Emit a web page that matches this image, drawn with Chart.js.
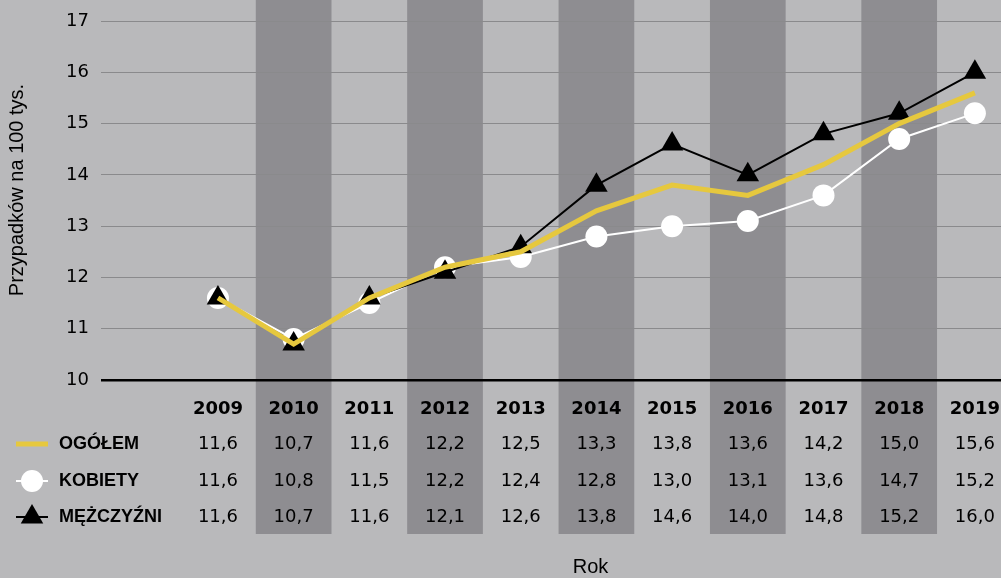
<!DOCTYPE html>
<html>
<head>
<meta charset="utf-8">
<script src="https://cdn.jsdelivr.net/npm/chart.js@4.4.1/dist/chart.umd.min.js"></script>
<style>
  html, body { margin: 0; padding: 0; background: #b9b9bb; }
  #wrap { width: 1001px; height: 578px; }
</style>
</head>
<body>
<div id="wrap"><canvas id="chart" width="1001" height="578"></canvas></div>
<script>
// dane
const years = ['2009', '2010', '2011', '2012', '2013', '2014', '2015', '2016', '2017', '2018', '2019'];
const ogolem = [11.6, 10.7, 11.6, 12.2, 12.5, 13.3, 13.8, 13.6, 14.2, 15.0, 15.6];
const kobiety = [11.6, 10.8, 11.5, 12.2, 12.4, 12.8, 13.0, 13.1, 13.6, 14.7, 15.2];
const mezczyzni = [11.6, 10.7, 11.6, 12.1, 12.6, 13.8, 14.6, 14.0, 14.8, 15.2, 16.0];
const seriesNames = ['OGÓŁEM', 'KOBIETY', 'MĘŻCZYŹNI'];
const yTicks = [10, 11, 12, 13, 14, 15, 16, 17];

const YELLOW = '#e6c83e';
const BG = '#b9b9bb';
const DARK = '#8e8d91';

const toPoints = arr => arr.map((v, i) => ({ x: i, y: v }));
const fmt = v => v.toFixed(1).replace('.', ',');

// tlo, ciemne kolumny, tabela pod wykresem
const tablePlugin = {
  id: 'tablePlugin',
  beforeDraw(chart) {
    const ctx = chart.ctx;
    const xs = chart.scales.x;
    const bottom = chart.chartArea.bottom;
    ctx.save();
    ctx.fillStyle = BG;
    ctx.fillRect(0, 0, chart.width, chart.height);
    ctx.fillStyle = DARK;
    years.forEach((y, i) => {
      if (i % 2 === 1) {
        const l = xs.getPixelForValue(i - 0.5);
        const r = xs.getPixelForValue(i + 0.5);
        ctx.fillRect(l, 0, r - l, bottom + 154);
      }
    });
    ctx.restore();
  },
  afterDraw(chart) {
    const ctx = chart.ctx;
    const xs = chart.scales.x;
    const bottom = chart.chartArea.bottom;
    const rows = [ogolem, kobiety, mezczyzni];
    const rowY = [bottom + 64, bottom + 101, bottom + 137];
    ctx.save();
    ctx.fillStyle = '#000';
    ctx.textAlign = 'center';
    ctx.textBaseline = 'middle';
    ctx.font = 'bold 18px "DejaVu Sans"';
    years.forEach((y, i) => ctx.fillText(y, xs.getPixelForValue(i), bottom + 29));
    ctx.font = '18px "DejaVu Sans"';
    rows.forEach((row, r) => {
      row.forEach((v, i) => ctx.fillText(fmt(v), xs.getPixelForValue(i), rowY[r]));
    });

    // legenda
    ctx.textAlign = 'left';
    ctx.font = 'bold 18px "Liberation Sans"';
    seriesNames.forEach((n, r) => ctx.fillText(n, 59, rowY[r]));
    // ogolem
    ctx.strokeStyle = YELLOW;
    ctx.lineWidth = 5;
    ctx.beginPath(); ctx.moveTo(16, rowY[0]); ctx.lineTo(48, rowY[0]); ctx.stroke();
    // kobiety
    ctx.strokeStyle = '#fff';
    ctx.lineWidth = 2;
    ctx.beginPath(); ctx.moveTo(16, rowY[1]); ctx.lineTo(48, rowY[1]); ctx.stroke();
    ctx.fillStyle = '#fff';
    ctx.beginPath(); ctx.arc(32, rowY[1], 11, 0, Math.PI * 2); ctx.fill();
    // mezczyzni
    ctx.strokeStyle = '#000';
    ctx.beginPath(); ctx.moveTo(16, rowY[2]); ctx.lineTo(48, rowY[2]); ctx.stroke();
    ctx.fillStyle = '#000';
    const rr = 13;
    ctx.beginPath();
    for (let k = 0; k < 3; k++) {
      const a = k * 2 * Math.PI / 3;
      const px = 32 + Math.sin(a) * rr, py = rowY[2] - Math.cos(a) * rr;
      k === 0 ? ctx.moveTo(px, py) : ctx.lineTo(px, py);
    }
    ctx.closePath(); ctx.fill();

    // tytul osi x
    ctx.textAlign = 'center';
    ctx.font = '20px "Liberation Sans"';
    const cx = (xs.getPixelForValue(-0.5) + chart.width) / 2;
    ctx.fillText('Rok', cx, chart.height - 11);
    ctx.restore();
  }
};

new Chart(document.getElementById('chart'), {
  type: 'line',
  data: {
    datasets: [
      {
        label: seriesNames[0],
        data: toPoints(ogolem),
        borderColor: YELLOW,
        borderWidth: 5,
        pointRadius: 0,
        order: 0
      },
      {
        label: seriesNames[1],
        data: toPoints(kobiety),
        borderColor: '#fff',
        borderWidth: 2,
        pointRadius: 11,
        pointBackgroundColor: '#fff',
        pointBorderColor: '#fff',
        pointBorderWidth: 0,
        order: 2
      },
      {
        label: seriesNames[2],
        data: toPoints(mezczyzni),
        borderColor: '#000',
        borderWidth: 2,
        pointStyle: 'triangle',
        pointRadius: 13,
        pointBackgroundColor: '#000',
        pointBorderColor: '#000',
        pointBorderWidth: 0,
        order: 1
      }
    ]
  },
  options: {
    responsive: false,
    animation: false,
    events: [],
    layout: { autoPadding: false, padding: { left: 0, right: 0, top: 0, bottom: 198 } },
    plugins: { legend: { display: false }, tooltip: { enabled: false } },
    elements: { line: { tension: 0 } },
    scales: {
      x: {
        type: 'linear',
        display: false,
        min: -1.545,
        max: 10.345
      },
      y: {
        min: 10,
        max: 17.41,
        afterBuildTicks: s => { s.ticks = yTicks.map(v => ({ value: v })); },
        afterFit: s => { s.width = 101; s.paddingTop = 0; s.paddingBottom = 0; },
        border: { display: false },
        grid: {
          drawTicks: false,
          color: c => c.tick && c.tick.value === 10 ? '#000' : '#8a8a8c',
          lineWidth: c => c.tick && c.tick.value === 10 ? 2.5 : 1
        },
        ticks: {
          padding: 12,
          color: '#000',
          font: { family: 'DejaVu Sans', size: 18 },
          callback: v => String(v)
        },
        title: {
          display: true,
          text: 'Przypadków na 100 tys.',
          color: '#000',
          font: { family: 'Liberation Sans', size: 20 },
          padding: { top: 5, bottom: 0 }
        }
      }
    }
  },
  plugins: [tablePlugin]
});
</script>
</body>
</html>
